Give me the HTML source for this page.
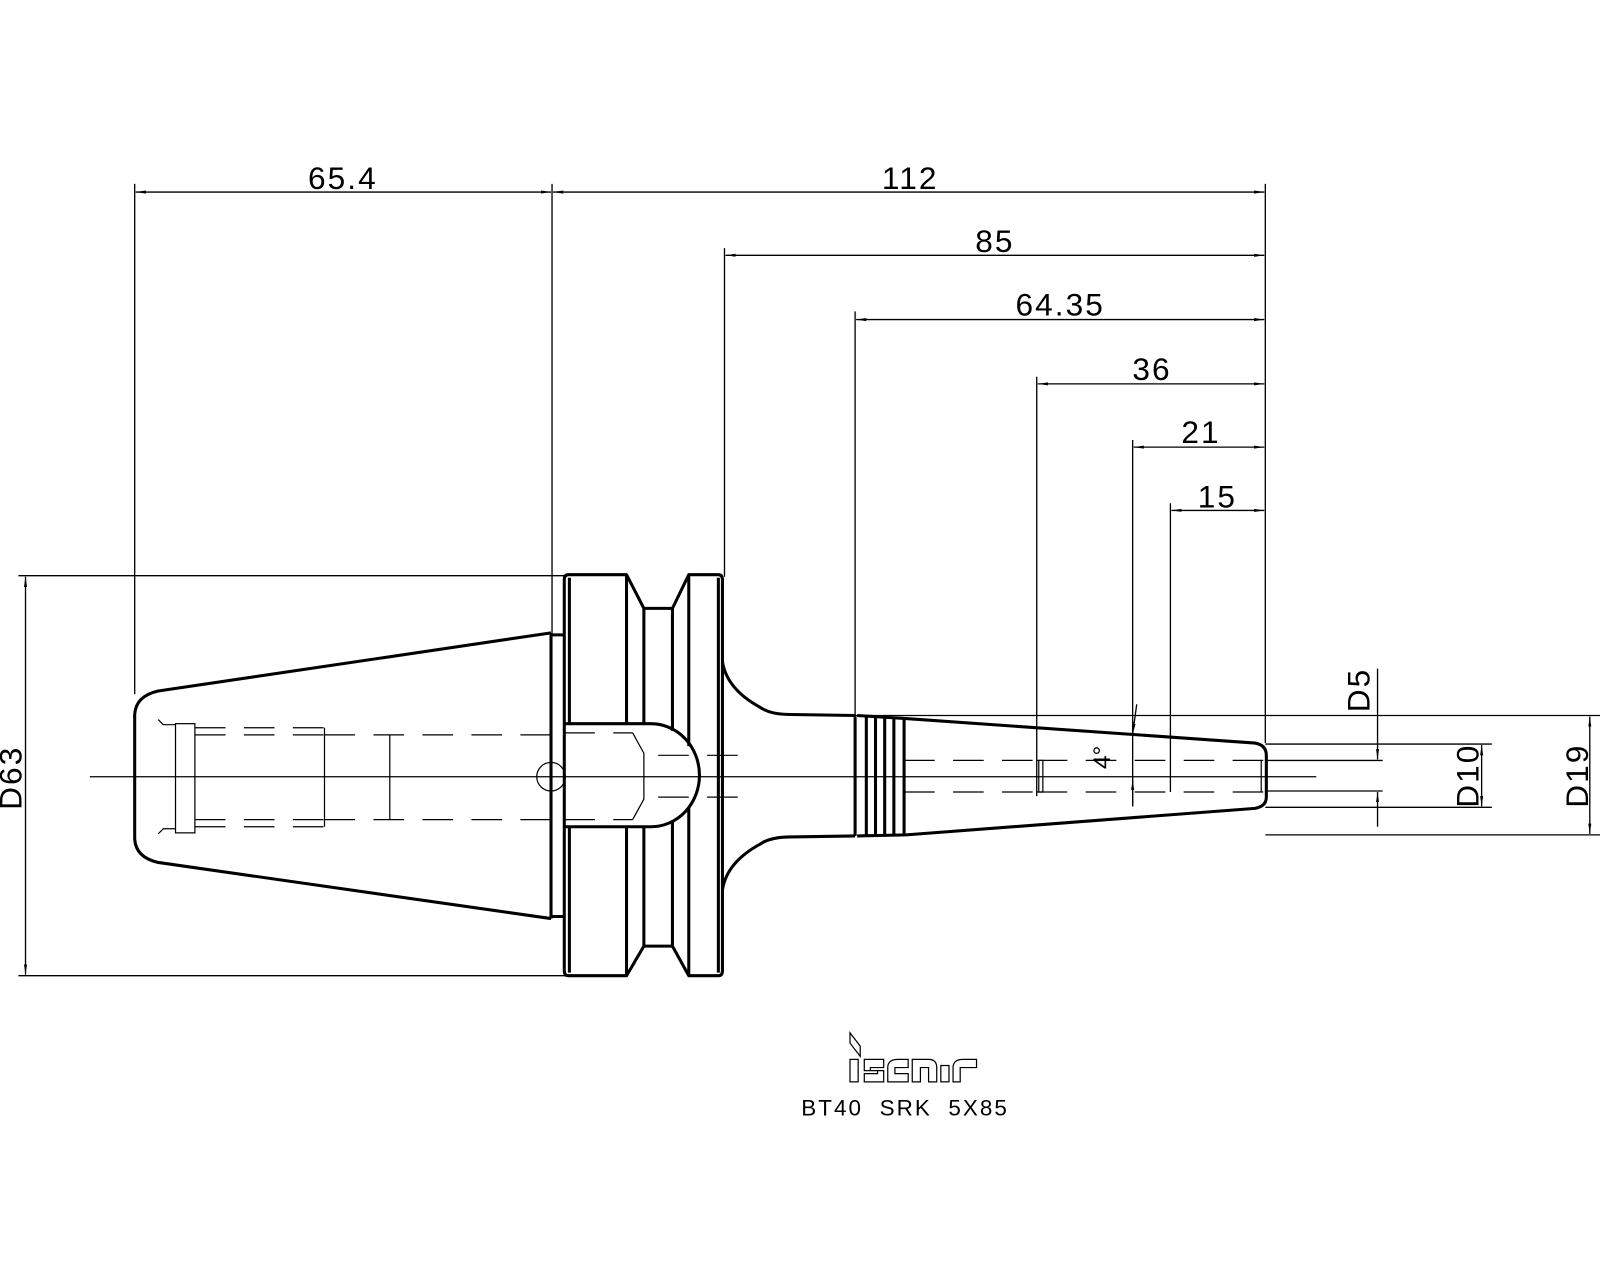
<!DOCTYPE html>
<html><head><meta charset="utf-8"><style>html,body{margin:0;padding:0;background:#fff}svg{display:block}</style></head>
<body>
<svg width="1600" height="1280" viewBox="0 0 1568 1254" xmlns="http://www.w3.org/2000/svg">
<defs>
<marker id="a" viewBox="0 0 10 4" refX="10" refY="2" markerWidth="10" markerHeight="4" markerUnits="userSpaceOnUse" orient="auto-start-reverse"><path d="M0,0.5 L10,2 L0,3.5Z" fill="#000"/></marker>
</defs>
<rect width="1568" height="1254" fill="#fff"/>
<g stroke="#000" stroke-width="1.3" fill="none">
<line x1="132" y1="180" x2="132" y2="680"/>
<line x1="541" y1="180" x2="541" y2="620"/>
<line x1="710" y1="243" x2="710" y2="565"/>
<line x1="838" y1="305" x2="838" y2="702"/>
<line x1="1016" y1="369" x2="1016" y2="780"/>
<line x1="1110" y1="431" x2="1110" y2="790"/>
<line x1="1147" y1="493" x2="1147" y2="776"/>
<line x1="1240" y1="180" x2="1240" y2="728"/>
<line x1="133" y1="188" x2="540" y2="188" marker-start="url(#a)" marker-end="url(#a)"/>
<line x1="542" y1="188" x2="1239" y2="188" marker-start="url(#a)" marker-end="url(#a)"/>
<line x1="711" y1="250" x2="1239" y2="250" marker-start="url(#a)" marker-end="url(#a)"/>
<line x1="839" y1="313" x2="1239" y2="313" marker-start="url(#a)" marker-end="url(#a)"/>
<line x1="1017" y1="376" x2="1239" y2="376" marker-start="url(#a)" marker-end="url(#a)"/>
<line x1="1111" y1="438" x2="1239" y2="438" marker-start="url(#a)" marker-end="url(#a)"/>
<line x1="1148" y1="500" x2="1239" y2="500" marker-start="url(#a)" marker-end="url(#a)"/>
<line x1="18" y1="564" x2="556" y2="564"/>
<line x1="18" y1="956" x2="556" y2="956"/>
<line x1="25" y1="565" x2="25" y2="955" marker-start="url(#a)" marker-end="url(#a)"/>
<line x1="88" y1="761" x2="1290" y2="761"/>
<line x1="838" y1="701" x2="1568" y2="701"/>
<line x1="1240" y1="818" x2="1568" y2="818"/>
<line x1="1240" y1="729" x2="1462" y2="729"/>
<line x1="1240" y1="791" x2="1462" y2="791"/>
<line x1="1240" y1="745" x2="1355" y2="745"/>
<line x1="1240" y1="775" x2="1355" y2="775"/>
<line x1="1350" y1="655" x2="1350" y2="744" marker-end="url(#a)"/>
<line x1="1350" y1="810" x2="1350" y2="776" marker-end="url(#a)"/>
<line x1="1452" y1="730" x2="1452" y2="790" marker-start="url(#a)" marker-end="url(#a)"/>
<line x1="1558" y1="702" x2="1558" y2="817" marker-start="url(#a)" marker-end="url(#a)"/>
<line x1="1114" y1="690" x2="1110" y2="719" marker-end="url(#a)"/>
<line x1="1110" y1="790" x2="1110" y2="764" marker-end="url(#a)"/>
</g>
<g stroke="#000" stroke-width="3" fill="none" stroke-linejoin="round">
<path d="M540,620 L155,677 Q133,682 132,700 L132,822 Q133,840 155,845 L540,900"/>
<path d="M540,620 L540,900 M540,622 L553,622 M540,898 L553,898"/>
<path d="M557,563 L614,563 L631,596 L659,596 L675,563 L704,563 Q708,563 708,568 L708,951 Q708,956 704,956 L675,956 L659,927 L631,927 L614,956 L557,956 Q553,956 553,951 L553,568 Q553,563 557,563Z"/>
<line x1="614" y1="563" x2="614" y2="709"/><line x1="614" y1="810" x2="614" y2="956"/>
<line x1="631" y1="596" x2="631" y2="709"/><line x1="631" y1="810" x2="631" y2="927"/>
<line x1="659" y1="596" x2="659" y2="716"/><line x1="659" y1="805" x2="659" y2="927"/>
<line x1="675" y1="563" x2="675" y2="731"/><line x1="675" y1="791" x2="675" y2="956"/>
<line x1="558" y1="566" x2="558" y2="709"/><line x1="558" y1="810" x2="558" y2="953"/>
<line x1="704" y1="566" x2="704" y2="953"/>
<path d="M553,709 L638,709 A47,50 0 0 1 638,810 L553,810"/>
<path d="M708,648 Q712,675 745,693 Q755,700 775,700 L838,701"/>
<path d="M708,872 Q712,845 745,827 Q755,820 775,820 L838,819"/>
<path d="M838,702 L838,819 M840,701 L888,704 L1230,728 Q1241,730 1241,740 L1241,781 Q1241,790 1230,792 L888,818 L840,819"/>
<line x1="849" y1="703" x2="849" y2="818"/><line x1="858" y1="703" x2="858" y2="818"/>
<line x1="867" y1="703" x2="867" y2="818"/><line x1="876" y1="703" x2="876" y2="818"/>
<line x1="886" y1="704" x2="886" y2="818"/>
</g>
<g stroke="#000" stroke-width="1.2" fill="none">
<path d="M155,705 L160,710 L172,710 M155,817 L160,812 L172,812"/>
<rect x="172" y="709" width="19" height="107"/>
<g stroke-dasharray="30,18">
<line x1="191" y1="713" x2="318" y2="713"/><line x1="191" y1="720" x2="318" y2="720"/>
<line x1="191" y1="803" x2="318" y2="803"/><line x1="191" y1="810" x2="318" y2="810"/>
<line x1="318" y1="720" x2="540" y2="720"/><line x1="318" y1="803" x2="540" y2="803"/>
<line x1="553" y1="718" x2="620" y2="718"/><line x1="553" y1="803" x2="620" y2="803"/>
<line x1="645" y1="740" x2="740" y2="740"/><line x1="645" y1="781" x2="740" y2="781"/>
<line x1="886" y1="745" x2="1016" y2="745"/><line x1="886" y1="776" x2="1016" y2="776"/>
<line x1="1016" y1="745" x2="1240" y2="745"/><line x1="1016" y1="776" x2="1240" y2="776"/>
</g>
<line x1="318" y1="713" x2="318" y2="810"/>
<line x1="382" y1="720" x2="382" y2="803"/>
<path d="M620,718 L631,738 L631,783 L620,803"/>
<rect x="1018" y="745" width="4" height="31"/>
<line x1="1236" y1="745" x2="1236" y2="776"/>
<circle cx="540" cy="761" r="14"/>
</g>
<g font-family="Liberation Sans, sans-serif" font-size="31" fill="#000" text-anchor="middle">
<text x="336" y="185" letter-spacing="2">65.4</text>
<text x="892" y="185" letter-spacing="2">112</text>
<text x="975" y="247" letter-spacing="2">85</text>
<text x="1039" y="309" letter-spacing="2">64.35</text>
<text x="1129" y="372" letter-spacing="2">36</text>
<text x="1177" y="434" letter-spacing="2">21</text>
<text x="1193" y="497" letter-spacing="2">15</text>
<text transform="translate(21,762) rotate(-90)" letter-spacing="2">D63</text>
<text transform="translate(1342,676) rotate(-90)" letter-spacing="2">D5</text>
<text transform="translate(1449,760) rotate(-90)" letter-spacing="2">D10</text>
<text transform="translate(1556,760) rotate(-90)" letter-spacing="2">D19</text>
<text transform="translate(1088,742) rotate(-90)" font-size="24">4°</text>
<text x="887" y="1093" font-size="22" letter-spacing="2" xml:space="preserve">BT40  SRK  5X85</text>
</g>
<g stroke="#000" stroke-width="1.2" fill="none">
<path d="M833,1012 L833,1022 L843,1035 L843,1025Z"/>
<rect x="833" y="1038" width="8" height="22"/>
<path d="M847,1038 L866,1038 L866,1046 L853,1046 L853,1049 L866,1049 L866,1060 L847,1060 L847,1052 L860,1052 L860,1049 L847,1049Z"/>
<path d="M870,1060 L870,1046 Q870,1038 880,1038 L890,1038 L890,1046 L877,1046 L877,1052 L890,1052 L890,1060Z"/>
<path d="M894,1060 L894,1038 L910,1038 Q918,1038 918,1046 L918,1060 L910,1060 L910,1046 L902,1046 L902,1060Z"/>
<rect x="922" y="1044" width="8" height="16"/>
<path d="M934,1060 L934,1046 Q934,1038 944,1038 L957,1038 L957,1046 L941,1046 L941,1060Z"/>
</g>
</svg>
</body></html>
